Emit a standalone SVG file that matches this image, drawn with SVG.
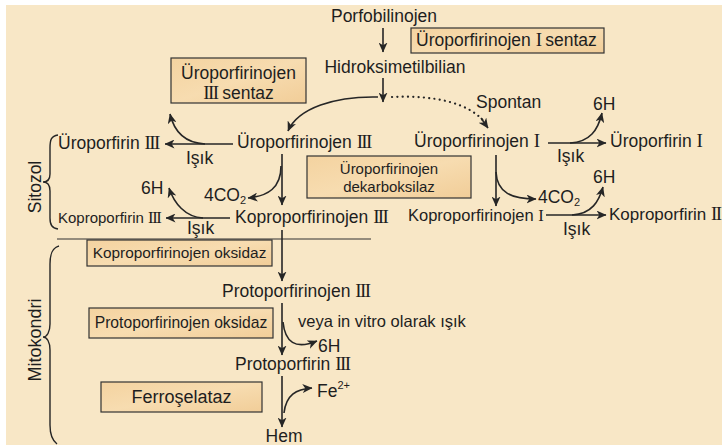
<svg xmlns="http://www.w3.org/2000/svg" width="722" height="445" viewBox="0 0 722 445">
<defs>
<linearGradient id="boxfill" x1="0" y1="0" x2="1" y2="1">
<stop offset="0" stop-color="#f4d3a0"/>
<stop offset="0.5" stop-color="#f7dcb0"/>
<stop offset="1" stop-color="#f1cd98"/>
</linearGradient>
<marker id="ah" viewBox="0 0 10 9" refX="9.5" refY="4.5" markerWidth="10" markerHeight="9" markerUnits="userSpaceOnUse" orient="auto">
<path d="M0,0 L10,4.5 L0,9 L2.8,4.5 z" fill="#262626"/>
</marker>
<style>
text{font-family:"Liberation Sans",Arial,sans-serif;fill:#1e1e1e;font-size:17.5px}
.r{font-family:"Liberation Serif","Times New Roman",serif;letter-spacing:-1.6px;font-size:19px}
.rs{font-size:16.5px;letter-spacing:-1.4px}
.box rect{fill:url(#boxfill);stroke:#333;stroke-width:1.2}
.c{fill:none;stroke:#262626;stroke-width:1.6;marker-end:url(#ah)}
.d{fill:none;stroke:#262626;stroke-width:2.2;stroke-linecap:round;stroke-dasharray:0.1 5.2}
.br{fill:none;stroke:#262626;stroke-width:1.4}
.sm{font-size:15px}
</style>
</defs>
<rect x="0" y="0" width="722" height="445" fill="#ffffff"/>
<rect x="6" y="5" width="716" height="440" fill="#f8e7c6"/>

<g id="sitozol">
<path class="br" d="M58,135 C51,136 50,140 50,148 L50,174 C50,180 47,182 43,182 C47,182 50,185 50,191 L50,218 C50,225 52,228 58,229"/>
<text transform="translate(41,187) rotate(-90)" text-anchor="middle">Sitozol</text>
</g>
<g id="mitokondri">
<path class="br" d="M59,246 C52,248 50,254 50,264 L50,324 C50,332 47,337 43,337 C47,337 50,342 50,350 L50,425 C50,436 53,441 57,444"/>
<text transform="translate(41,340) rotate(-90)" text-anchor="middle" style="font-size:18px">Mitokondri</text>
</g>
<line id="divider" x1="57" y1="239" x2="371" y2="239" stroke="#333" stroke-width="1.2"/>

<g id="enzymes">
<g id="e-uro1-sentaz" class="box"><rect x="411" y="28" width="193" height="25"/><text x="416" y="46">Üroporfirinojen <tspan class="r">I</tspan> sentaz</text></g>
<g id="e-uro3-sentaz" class="box"><rect x="171" y="58" width="135" height="45"/><text x="238.5" y="79" text-anchor="middle">Üroporfirinojen</text><text x="238.5" y="99" text-anchor="middle"><tspan class="r">III</tspan> sentaz</text></g>
<g id="e-dekarboksilaz" class="box"><rect x="307" y="156" width="164" height="42"/><text x="389" y="174" text-anchor="middle" class="sm">Üroporfirinojen</text><text x="389" y="192" text-anchor="middle" class="sm">dekarboksilaz</text></g>
<g id="e-kopro-oksidaz" class="box"><rect x="87" y="240" width="185" height="26"/><text x="179.5" y="258" text-anchor="middle" style="font-size:15.4px">Koproporfirinojen oksidaz</text></g>
<g id="e-proto-oksidaz" class="box"><rect x="89" y="308" width="184" height="30"/><text x="181" y="328" text-anchor="middle" style="font-size:15.7px">Protoporfirinojen oksidaz</text></g>
<g id="e-ferroselataz" class="box"><rect x="101" y="382" width="161" height="30"/><text x="181.5" y="403" text-anchor="middle" style="font-size:18px">Ferroşelataz</text></g>
</g>

<g id="n-porfobilinojen"><text x="384" y="22" text-anchor="middle">Porfobilinojen</text></g>
<g id="n-hidroksimetilbilian"><text x="395" y="73" text-anchor="middle">Hidroksimetilbilian</text></g>
<g id="n-spontan"><text x="476" y="108">Spontan</text></g>
<g id="n-uro3"><text x="237" y="148">Üroporfirinojen <tspan class="r">III</tspan></text></g>
<g id="n-uro1"><text x="414" y="147">Üroporfirinojen <tspan class="r">I</tspan></text></g>
<g id="n-uroporfirin1"><text x="610" y="147">Üroporfirin <tspan class="r">I</tspan></text></g>
<g id="n-uroporfirin3"><text x="58" y="149">Üroporfirin <tspan class="r">III</tspan></text></g>
<g id="n-kopro3"><text x="235" y="223">Koproporfirinojen <tspan class="r">III</tspan></text></g>
<g id="n-kopro1"><text x="408" y="221" style="font-size:16.5px">Koproporfirinojen <tspan class="r rs">I</tspan></text></g>
<g id="n-koproporfirin3"><text x="58" y="223" class="sm">Koproporfirin <tspan class="r rs">III</tspan></text></g>
<g id="n-koproporfirin1"><text x="609" y="220" style="font-size:17px">Koproporfirin <tspan class="r">II</tspan></text></g>
<g id="n-proto3"><text x="222" y="297">Protoporfirinojen <tspan class="r">III</tspan></text></g>
<g id="n-protoporfirin3"><text x="235" y="370">Protoporfirin <tspan class="r">III</tspan></text></g>
<g id="n-hem"><text x="284" y="442" text-anchor="middle">Hem</text></g>

<g id="side-labels">
<text x="186" y="164">Işık</text>
<text x="187" y="234">Işık</text>
<text x="557" y="162">Işık</text>
<text x="563" y="235">Işık</text>
<text x="141" y="194">6H</text>
<text x="593" y="110">6H</text>
<text x="593" y="183">6H</text>
<text x="318" y="352">6H</text>
<text x="204" y="201">4CO<tspan dy="3" style="font-size:11px">2</tspan></text>
<text x="538" y="203">4CO<tspan dy="3" style="font-size:11px">2</tspan></text>
<text x="298" y="327" style="font-size:16.5px">veya in vitro olarak ışık</text>
<text x="317" y="397">Fe<tspan dy="-8" style="font-size:11px">2+</tspan></text>
</g>

<g id="connectors">
<path class="c" d="M383,28 L383,52"/>
<path class="c" d="M383,78 L383,102"/>
<path class="c" d="M378,97 C335,96 298,108 288,131"/>
<path class="d" d="M392,97 C432,95 470,102 486,124"/>
<path class="c" d="M481,118 L488,128"/>
<path class="c" d="M233,144 L165,144"/>
<path class="c" d="M205,144 C185,143 174,131 170,114"/>
<path class="c" d="M282,154 L282,205"/>
<path class="c" d="M281,166 C281,188 268,196 248,198"/>
<path class="c" d="M230,218 L166,218"/>
<path class="c" d="M203,218 C185,217 174,203 169,188"/>
<path class="c" d="M282,230 L282,281"/>
<path class="c" d="M496,155 L496,206"/>
<path class="c" d="M496,172 C497,193 512,199 536,199"/>
<path class="c" d="M548,143 L606,143"/>
<path class="c" d="M570,143 C590,142 598,130 602,113"/>
<path class="c" d="M546,215 L606,215"/>
<path class="c" d="M572,215 C592,214 599,201 603,187"/>
<path class="c" d="M282,303 L282,355"/>
<path class="c" d="M283,322 C285,342 295,350 317,341"/>
<path class="c" d="M282,376 L282,427"/>
<path class="c" d="M284,413 C286,395 296,389 312,388"/>
</g>
</svg>
